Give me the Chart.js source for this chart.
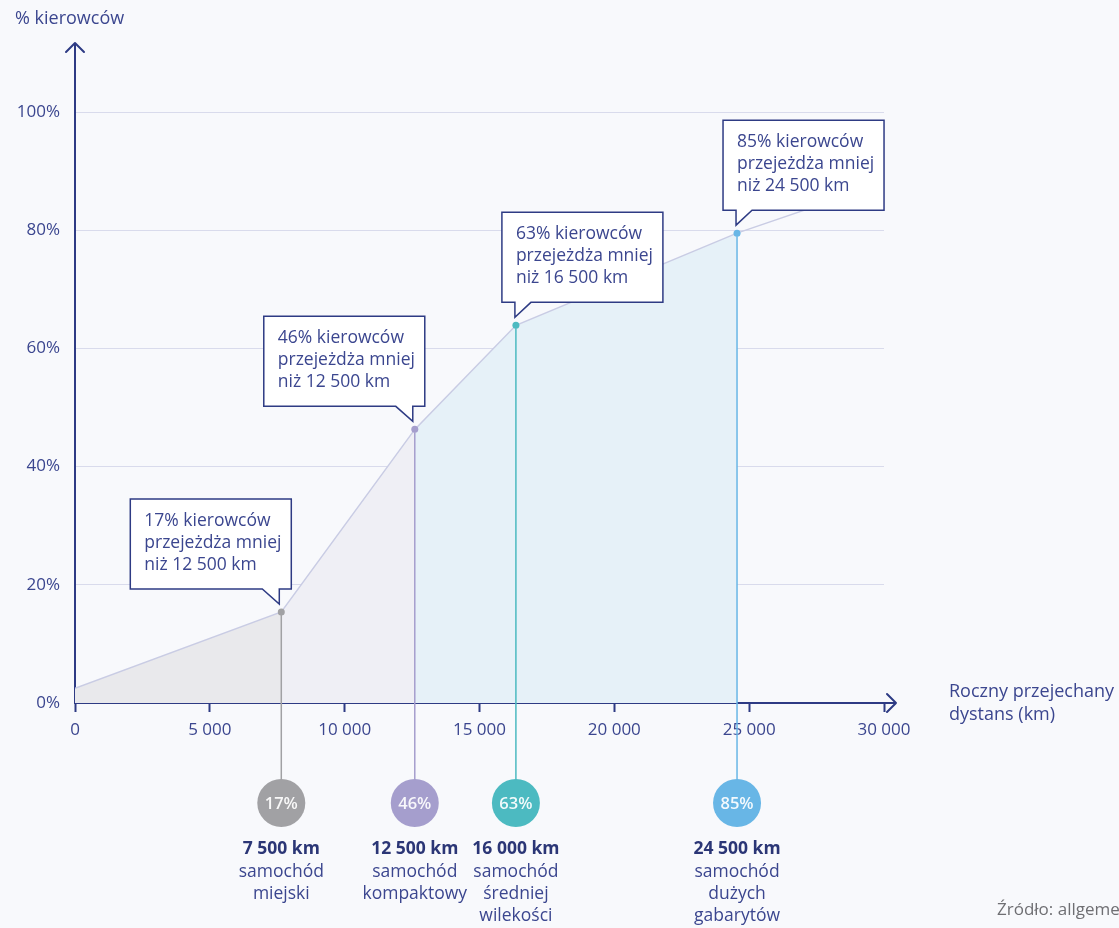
<!DOCTYPE html>
<html lang="pl">
<head>
<meta charset="UTF-8">
<title>Roczny przejechany dystans</title>
<script src="https://cdn.jsdelivr.net/npm/chart.js"></script>
<style>
    body {
        margin: 0;
        background: #f8f9fc;
        font-family: 'Open Sans', sans-serif;
    }
    .wrap {
        position: relative;
        width: 1119px;
        height: 928px;
    }
</style>
</head>
<body>
<div class="wrap"><canvas id="chart"></canvas></div>
<script>
    // curve: share of drivers (%) below a given yearly distance (km)
    const curveKm = [0, 7650, 12600, 16350, 24550, 30000];
    const curvePct = [2.5, 15.4, 46.3, 63.9, 79.5, 88];

    // highlighted points (index into the curve)
    const markerIdx = [1, 2, 3, 4];
    const shareLabels = ['17%', '46%', '63%', '85%'];
    const kmLabels = ['7 500 km', '12 500 km', '16 000 km', '24 500 km'];
    const carClasses = [
        ['samochód', 'miejski'],
        ['samochód', 'kompaktowy'],
        ['samochód', 'średniej', 'wilekości'],
        ['samochód', 'dużych', 'gabarytów']
    ];
    const calloutLines = [
        ['17% kierowców', 'przejeżdża mniej', 'niż 12 500 km'],
        ['46% kierowców', 'przejeżdża mniej', 'niż 12 500 km'],
        ['63% kierowców', 'przejeżdża mniej', 'niż 16 500 km'],
        ['85% kierowców', 'przejeżdża mniej', 'niż 24 500 km']
    ];
    const calloutSide = ['right', 'right', 'left', 'left'];
    const markerColors = ['#a1a1a4', '#a59ecd', '#4cbac1', '#68b6e6'];

    const xTicks = [0, 5000, 10000, 15000, 20000, 25000, 30000];
    const yTicks = [0, 20, 40, 60, 80, 100];

    const NAVY = '#2e3b84';
    const TEXT = '#3b468f';
    const FONT = "'Open Sans', sans-serif";

    function pts(a, b) {
        const out = [];
        for (let i = a; i <= b; i++) out.push({ x: curveKm[i], y: curvePct[i] });
        return out;
    }

    function fillSet(a, b, color) {
        return {
            data: pts(a, b),
            fill: 'origin',
            backgroundColor: color,
            borderWidth: 0,
            pointRadius: 0
        };
    }

    const spaceKm = n => String(n).replace(/\B(?=(\d{3})+(?!\d))/g, ' ');

    const decor = {
        id: 'decor',
        afterDatasetsDraw(chart) {
            const ctx = chart.ctx;
            const xs = chart.scales.x, ys = chart.scales.y;
            ctx.save();
            // drop lines from each point to its circle
            markerIdx.forEach((idx, i) => {
                const px = xs.getPixelForValue(curveKm[idx]);
                const py = ys.getPixelForValue(curvePct[idx]);
                ctx.strokeStyle = markerColors[i];
                ctx.lineWidth = 1.5;
                ctx.beginPath();
                ctx.moveTo(px, py + 3);
                ctx.lineTo(px, 780);
                ctx.stroke();
            });
            ctx.restore();
        },
        afterDraw(chart) {
            const ctx = chart.ctx;
            const xs = chart.scales.x, ys = chart.scales.y;
            const area = chart.chartArea;
            ctx.save();

            // axis arrows
            ctx.strokeStyle = NAVY;
            ctx.lineWidth = 2;
            ctx.lineCap = 'round';
            ctx.lineJoin = 'round';
            ctx.beginPath();
            ctx.moveTo(area.left, area.top);
            ctx.lineTo(area.left, 43);
            ctx.moveTo(area.left - 9, 52);
            ctx.lineTo(area.left, 43);
            ctx.lineTo(area.left + 9, 52);
            ctx.moveTo(area.right, area.bottom);
            ctx.lineTo(896, area.bottom);
            ctx.moveTo(887, area.bottom - 9);
            ctx.lineTo(896, area.bottom);
            ctx.lineTo(887, area.bottom + 9);
            ctx.stroke();

            // axis titles
            ctx.fillStyle = TEXT;
            ctx.font = '18px ' + FONT;
            ctx.textBaseline = 'middle';
            ctx.textAlign = 'left';
            ctx.fillText('% kierowców', 15, 19);
            ctx.fillText('Roczny przejechany', 949, 692);
            ctx.fillText('dystans (km)', 949, 715);

            // source
            ctx.fillStyle = '#6f6f73';
            ctx.font = '17px ' + FONT;
            ctx.fillText('Źródło: allgemeine Statistik', 997, 910);

            markerIdx.forEach((idx, i) => {
                const px = xs.getPixelForValue(curveKm[idx]);
                const py = ys.getPixelForValue(curvePct[idx]);

                // callout box with tail
                const w = 161, top = py - 113, bottom = py - 23, tip = py - 8;
                ctx.beginPath();
                if (calloutSide[i] === 'right') {
                    const left = px - 151, right = left + w;
                    ctx.moveTo(left, top);
                    ctx.lineTo(right, top);
                    ctx.lineTo(right, bottom);
                    ctx.lineTo(px - 2, bottom);
                    ctx.lineTo(px - 2, tip);
                    ctx.lineTo(px - 19, bottom);
                    ctx.lineTo(left, bottom);
                } else {
                    const left = px - 14, right = left + w;
                    ctx.moveTo(left, top);
                    ctx.lineTo(right, top);
                    ctx.lineTo(right, bottom);
                    ctx.lineTo(px + 15, bottom);
                    ctx.lineTo(px - 1, tip);
                    ctx.lineTo(px - 1, bottom);
                    ctx.lineTo(left, bottom);
                }
                ctx.closePath();
                ctx.fillStyle = '#ffffff';
                ctx.fill();
                ctx.strokeStyle = NAVY;
                ctx.lineWidth = 1.5;
                ctx.lineCap = 'butt';
                ctx.lineJoin = 'miter';
                ctx.stroke();

                const textLeft = calloutSide[i] === 'right' ? px - 151 + 14 : px - 14 + 14;
                ctx.fillStyle = TEXT;
                ctx.font = '17.5px ' + FONT;
                ctx.textAlign = 'left';
                calloutLines[i].forEach((line, k) => {
                    ctx.fillText(line, textLeft, top + 22 + k * 22);
                });

                // circle with share
                ctx.beginPath();
                ctx.arc(px, 803, 24, 0, Math.PI * 2);
                ctx.fillStyle = markerColors[i];
                ctx.fill();
                ctx.fillStyle = 'rgba(255,255,255,0.92)';
                ctx.font = '600 16.5px ' + FONT;
                ctx.textAlign = 'center';
                ctx.fillText(shareLabels[i], px, 804);

                // category labels
                ctx.fillStyle = '#2b3676';
                ctx.font = 'bold 17.5px ' + FONT;
                ctx.fillText(kmLabels[i], px, 849);
                ctx.fillStyle = TEXT;
                ctx.font = '17.5px ' + FONT;
                carClasses[i].forEach((line, k) => {
                    ctx.fillText(line, px, 872 + k * 22);
                });
            });
            ctx.restore();
        }
    };

    new Chart(document.getElementById('chart'), {
        type: 'line',
        data: {
            datasets: [
                {
                    data: pts(0, curveKm.length - 1),
                    borderColor: '#c9cce4',
                    borderWidth: 1.5,
                    fill: false,
                    pointRadius: curveKm.map((_, i) => markerIdx.includes(i) ? 3.5 : 0),
                    pointBackgroundColor: curveKm.map((_, i) => {
                        const m = markerIdx.indexOf(i);
                        return m >= 0 ? markerColors[m] : 'transparent';
                    }),
                    pointBorderWidth: 0
                },
                fillSet(0, 1, '#e9e9ec'),
                fillSet(1, 2, '#efeff5'),
                fillSet(2, 4, '#e6f1f8')
            ]
        },
        options: {
            responsive: true,
            maintainAspectRatio: false,
            animation: false,
            events: [],
            layout: { padding: { top: 112, right: 235, left: 0, bottom: 0 } },
            plugins: {
                legend: { display: false },
                tooltip: { enabled: false }
            },
            scales: {
                x: {
                    type: 'linear',
                    min: 0,
                    max: 30000,
                    z: 1,
                    afterFit: s => { s.height = 225; },
                    afterBuildTicks: s => { s.ticks = xTicks.map(v => ({ value: v })); },
                    grid: {
                        drawOnChartArea: false,
                        tickColor: NAVY,
                        tickWidth: 2,
                        tickLength: 9
                    },
                    border: { color: NAVY, width: 2 },
                    ticks: {
                        color: TEXT,
                        font: { family: FONT, size: 17 },
                        padding: 8,
                        maxRotation: 0,
                        callback: v => spaceKm(v)
                    }
                },
                y: {
                    min: 0,
                    max: 100,
                    z: 1,
                    afterFit: s => { s.width = 75; },
                    afterBuildTicks: s => { s.ticks = yTicks.map(v => ({ value: v })); },
                    grid: {
                        drawTicks: false,
                        color: ctx => ctx.tick && ctx.tick.value === 0 ? 'transparent' : '#d9dbec',
                        lineWidth: 1
                    },
                    border: { color: NAVY, width: 2 },
                    ticks: {
                        color: TEXT,
                        font: { family: FONT, size: 17 },
                        padding: 15,
                        callback: v => v + '%'
                    }
                }
            }
        },
        plugins: [decor]
    });
</script>
</body>
</html>
